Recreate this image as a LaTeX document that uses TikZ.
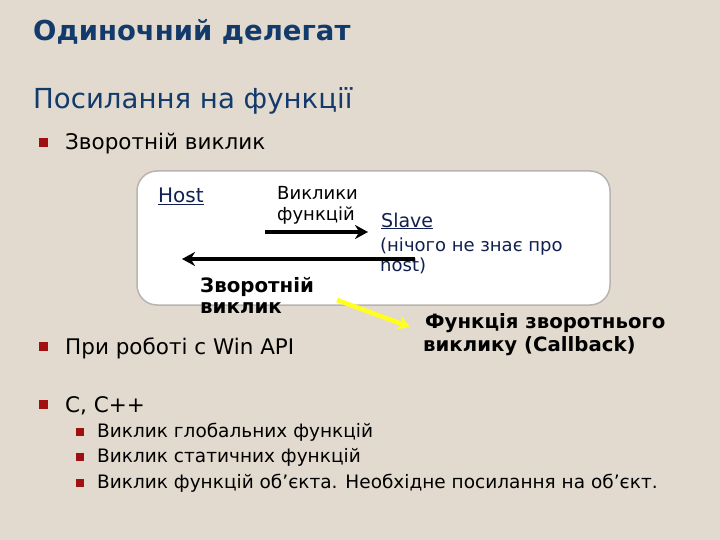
\documentclass[tikz,border=0pt]{standalone}
\usepackage{fontspec}
\setmainfont{DejaVu Sans}
\usetikzlibrary{arrows.meta}
\definecolor{bg}{HTML}{E2DACE}
\definecolor{ttl}{HTML}{123A6A}
\definecolor{blt}{HTML}{A01010}
\definecolor{lnk}{HTML}{102050}
\definecolor{boxline}{HTML}{B8B4B0}
\definecolor{yel}{HTML}{FFFF20}
\tikzset{
  txt/.style={anchor=base west, inner sep=0pt, font=\fontsize{21.5}{25}\selectfont},
  sub/.style={anchor=base west, inner sep=0pt, font=\fontsize{18.5}{22}\selectfont},
  bul/.style={fill=blt, minimum size=9pt, inner sep=0pt},
  sbul/.style={fill=blt, minimum size=7.5pt, inner sep=0pt},
  small/.style={inner sep=0pt, font=\fontsize{18}{21}\selectfont, align=left},
  arr/.style={line width=3.8pt, -{Stealth[length=13pt,width=14pt]}},
}
\begin{document}
\begin{tikzpicture}[x=1pt,y=-1pt]
\fill[bg] (0,0) rectangle (720,540);
\useasboundingbox (0,0) rectangle (720,540);
% title
\node[anchor=base west, inner sep=0pt, text=ttl, font=\fontsize{27.5}{32}\bfseries] (title) at (33,41) {Одиночний делегат};
\node[anchor=base west, inner sep=0pt, text=ttl, font=\fontsize{27.6}{32}\selectfont] (subtitle) at (33,109) {Посилання на функції};
% bullets
\node[bul] (b1) at (43,143) {};
\node[txt] (t1) at (65,150) {Зворотній виклик};
\node[bul] (b2) at (43,346) {};
\node[txt] (t2) at (65,354) {При роботі с Win API};
\node[bul] (b3) at (43,404) {};
\node[txt] (t3) at (65,412) {C, C++};
\node[sbul] (s1) at (80,432) {};
\node[sub] (u1) at (97,437) {Виклик глобальних функцій};
\node[sbul] (s2) at (80,457) {};
\node[sub] (u2) at (97,462) {Виклик статичних функцій};
\node[sbul] (s3) at (80,483) {};
\node[sub] (u3) at (97,488) {Виклик функцій об’єкта. Необхідне посилання на об’єкт.};
% box
\draw[boxline, line width=1.5pt, fill=white, rounded corners=20pt] (137,171) rectangle (610,305);
\node[small, anchor=base west, text=lnk, font=\fontsize{20}{22}\selectfont] (host) at (158,203) {\underline{Host}};
\node[small, anchor=north west] (calls) at (277,186) {Виклики\\функцій};
\node[small, anchor=base west, text=lnk, font=\fontsize{19}{22}\selectfont] (slave) at (381,227) {\underline{Slave}};
\node[small, anchor=north west, text=lnk, font=\fontsize{18}{19.5}\selectfont] (nothing) at (380,238) {(нічого не знає про\\host)};
\coordinate (ra) at (265,232);
\coordinate (rb) at (368,232);
\draw[arr] (ra) -- (rb);
\coordinate (la) at (415,259);
\coordinate (lb) at (182,259);
\draw[arr] (la) -- (lb);
\node[small, anchor=north west, font=\fontsize{19.8}{21}\bfseries] (cb) at (200,277) {Зворотній\\виклик};
\node[inner sep=0pt, anchor=north west, align=left, font=\fontsize{19.7}{23.5}\bfseries] (cbf) at (423,313) {\hspace*{2pt}Функція зворотнього\\виклику (Callback)};
\coordinate (ya) at (337,300);
\coordinate (yb) at (410,327);
\draw[yel, line width=4.5pt, -{Stealth[length=12pt,width=14pt]}] (ya) -- (yb);
\end{tikzpicture}
\end{document}
